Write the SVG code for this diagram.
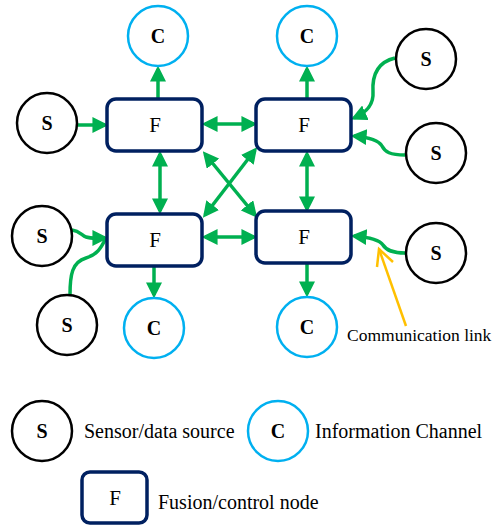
<svg xmlns="http://www.w3.org/2000/svg" width="493" height="527" viewBox="0 0 493 527">
<style>
.s{fill:#fff;stroke:#000;stroke-width:2.5}
.c{fill:#fff;stroke:#00b0f0;stroke-width:2.5}
.f{fill:#fff;stroke:#002060;stroke-width:3.5}
text{font-family:'Liberation Serif','Times New Roman',Times,'DejaVu Serif',serif;fill:#000}
.lb{font-weight:bold;font-size:20px;text-anchor:middle}
.lf{font-size:21px;text-anchor:middle}
.t{font-size:20px}
.e{fill:none;stroke:#00b050;stroke-width:3.5}
.ea{marker-end:url(#ah)}
.eb{marker-start:url(#ah);marker-end:url(#ah)}
</style>
<defs>
<marker id="ah" markerUnits="userSpaceOnUse" markerWidth="16" markerHeight="16" viewBox="0 0 14 14" refX="11" refY="7" orient="auto-start-reverse">
<path d="M0,0 L14,7 L0,14 z" fill="#00b050"/>
</marker>
</defs>
<g id="connectors">
<path class="e ea" d="M77,125 L105,125"/>
<path class="e ea" d="M158,99 L158,69"/>
<path class="e ea" d="M307,99 L307,69"/>
<path class="e ea" d="M154,267 L154,295"/>
<path class="e ea" d="M307,264 L307,294"/>
<path class="e eb" d="M205,124 L254,124"/>
<path class="e eb" d="M205,237 L254,237"/>
<path class="e eb" d="M160,154 L160,211"/>
<path class="e eb" d="M307,154 L307,209"/>
<path class="e eb" d="M205,154 L255,215"/>
<path class="e eb" d="M255,150 L205,215"/>
<path class="e ea" d="M395,58 C378,62 372,75 373,92 C374,106 365,113 354,118"/>
<path class="e ea" d="M405,155 C390,155 385,152 382,146 C378,139 366,137 354,136"/>
<path class="e ea" d="M405,253 C392,253 386,250 383,245 C379,239 366,237 354,236"/>
<path class="e ea" d="M72,230 C80,231 82,236 86,237 C92,239 98,238 105,238"/>
<path class="e" d="M70,295 C70,275 72,262 86,258 C97,255 101,248 106,238"/>
<g id="comm-link" fill="none" stroke="#ffc000" stroke-width="2.5">
<path d="M406,326 L379,249"/>
<path d="M377,267 L379,249 L393,262"/>
</g>
</g>
<g id="C1"><circle class="c" cx="158" cy="36" r="30"/><text class="lb" x="158" y="43">C</text></g>
<g id="C2"><circle class="c" cx="307" cy="36" r="30"/><text class="lb" x="307" y="43">C</text></g>
<g id="C3"><circle class="c" cx="154" cy="328" r="30"/><text class="lb" x="154" y="335">C</text></g>
<g id="C4"><circle class="c" cx="307" cy="327" r="30"/><text class="lb" x="307" y="334">C</text></g>
<g id="S1"><circle class="s" cx="47" cy="123" r="30"/><text class="lb" x="47" y="130">S</text></g>
<g id="S2"><circle class="s" cx="426" cy="59" r="30"/><text class="lb" x="426" y="66">S</text></g>
<g id="S3"><circle class="s" cx="436" cy="153" r="30"/><text class="lb" x="436" y="160">S</text></g>
<g id="S4"><circle class="s" cx="42" cy="236" r="30"/><text class="lb" x="42" y="243">S</text></g>
<g id="S5"><circle class="s" cx="67" cy="325" r="30"/><text class="lb" x="67" y="332">S</text></g>
<g id="S6"><circle class="s" cx="436" cy="253" r="30"/><text class="lb" x="436" y="260">S</text></g>
<g id="F1"><rect class="f" x="107" y="99" width="95" height="52" rx="9"/><text class="lf" x="155" y="132">F</text></g>
<g id="F2"><rect class="f" x="256" y="99" width="95" height="52" rx="9"/><text class="lf" x="304" y="132">F</text></g>
<g id="F3"><rect class="f" x="107" y="214" width="95" height="52" rx="9"/><text class="lf" x="155" y="247">F</text></g>
<g id="F4"><rect class="f" x="256" y="211" width="95" height="52" rx="9"/><text class="lf" x="304" y="244">F</text></g>
<text class="t" x="347" y="341" style="font-size:17.5px">Communication link</text>
<g id="legend-S"><circle class="s" cx="42" cy="431" r="30"/><text class="lb" x="42" y="438">S</text><text class="t" x="84" y="438">Sensor/data source</text></g>
<g id="legend-C"><circle class="c" cx="278" cy="431" r="30"/><text class="lb" x="278" y="438">C</text><text class="t" x="315" y="438">Information Channel</text></g>
<g id="legend-F"><rect class="f" x="82" y="472" width="65" height="51" rx="8"/><text class="lf" x="115" y="505">F</text><text class="t" x="158" y="509">Fusion/control node</text></g>
</svg>
